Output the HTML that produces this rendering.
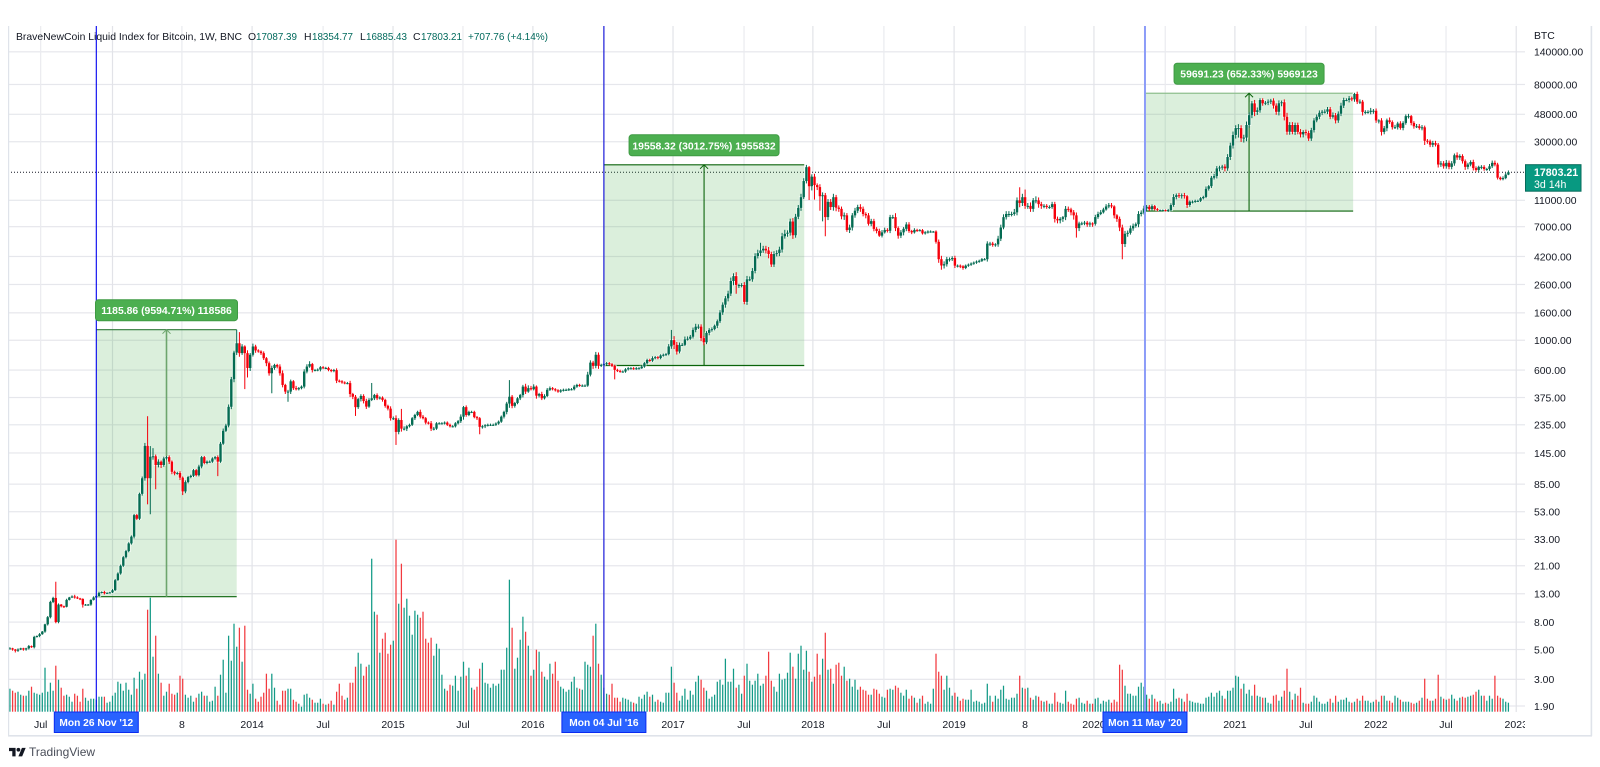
<!DOCTYPE html>
<html lang="en">
<head>
<meta charset="utf-8">
<title>BraveNewCoin Liquid Index for Bitcoin, 1W</title>
<style>
html,body{margin:0;padding:0;background:#fff;width:1600px;height:767px;overflow:hidden}
svg{display:block}
text{font-family:"Liberation Sans",Arial,sans-serif}
</style>
</head>
<body>
<svg id="chart" width="1600" height="767" viewBox="0 0 1600 767" xmlns="http://www.w3.org/2000/svg">
  <defs>
    <clipPath id="time-clip"><rect x="8" y="712" width="1517" height="24"/></clipPath>
  </defs>
  <rect x="0" y="0" width="1600" height="767" fill="#ffffff"/>
  <g id="grid"></g>
  <g id="boxes"></g>
  <g id="volumes"></g>
  <g id="halos"></g>
  <g id="candles"></g>
  <g id="markers"></g>
  <g id="price-axis"></g>
  <g id="time-axis" clip-path="url(#time-clip)"></g>
  <g id="marker-tags"></g>
  <g id="measure-labels"></g>

  <rect x="8" y="26" width="1.2" height="710" fill="#dfe3ea"/>
  <rect x="8" y="735" width="1584" height="1.6" fill="#dfe3ea"/>
  <rect x="1590.6" y="26" width="1.6" height="710" fill="#dfe3ea"/>

  <g font-size="10.4">
    <text x="16" y="40" fill="#131722" textLength="226" lengthAdjust="spacingAndGlyphs">BraveNewCoin Liquid Index for Bitcoin, 1W, BNC</text>
    <text x="248" y="40" fill="#131722">O</text>
    <text x="256" y="40" fill="#00695c" textLength="41" lengthAdjust="spacingAndGlyphs">17087.39</text>
    <text x="304" y="40" fill="#131722">H</text>
    <text x="312" y="40" fill="#00695c" textLength="41" lengthAdjust="spacingAndGlyphs">18354.77</text>
    <text x="360" y="40" fill="#131722">L</text>
    <text x="366" y="40" fill="#00695c" textLength="41" lengthAdjust="spacingAndGlyphs">16885.43</text>
    <text x="413" y="40" fill="#131722">C</text>
    <text x="421" y="40" fill="#00695c" textLength="41" lengthAdjust="spacingAndGlyphs">17803.21</text>
    <text x="468" y="40" fill="#00695c" textLength="80" lengthAdjust="spacingAndGlyphs">+707.76 (+4.14%)</text>
  </g>

  <g>
    <g transform="translate(9,746) scale(0.47)" fill="#131722">
      <path d="M14 22H7V11H0V4h14v18zM28 22h-8l7.5-18h8L28 22z"/>
      <circle cx="20" cy="8" r="4"/>
    </g>
    <text x="29" y="756" font-size="12" fill="#4a4e59">TradingView</text>
  </g>
</svg>

<script>
/* ---------- chart data ---------- */
const closes = [
5.1,5.0,4.9,5.0,5.1,5.0,5.1,5.3,5.2,6.2,
6.3,6.5,6.8,7.7,8.7,11.3,12.1,8.0,10.8,10.5,
10.4,11.7,12.2,12.4,12.2,12.0,11.9,10.8,10.8,10.8,
11.7,12.2,12.5,13.2,13.4,13.1,13.2,13.3,13.8,16.4,
18.4,21,24.3,27,30.8,34.6,50,47,72,94,
164,94,136,137,118,125,118,132,135,125,
105,102,103,95,75,88,96,98,108,99,
115,135,122,125,125,132,135,125,170,212,
232,320,513,810,950,802,899,802,622,780,
899,840,825,802,735,675,568,622,655,637,
568,465,415,415,495,440,432,440,452,585,
637,665,600,600,605,630,622,622,600,590,
600,500,495,485,480,480,398,380,318,365,
385,353,321,360,370,391,370,375,360,325,
310,263,263,208,255,220,220,229,235,263,
278,293,270,263,244,241,220,220,241,241,
241,244,235,229,229,241,250,270,318,278,
293,293,268,263,227,229,233,235,235,235,
240,248,270,293,338,380,325,341,370,391,
452,415,440,432,452,387,398,370,385,428,
440,432,424,415,424,428,428,432,432,452,
465,460,460,460,555,682,645,780,645,656,
667,675,663,645,602,592,585,585,608,619,
619,615,619,619,637,675,714,705,737,748,
737,771,780,788,900,1003,925,824,925,925,
1015,1027,1063,1195,1263,1263,1037,965,1135,1195,
1210,1283,1385,1610,1840,2050,2225,2760,3000,2580,
2580,2580,1930,2840,2840,3280,4230,4450,4660,4800,
4660,4380,3660,4380,4450,4730,5940,6200,6320,7650,
6040,8300,9660,11600,15300,19400,14000,16500,14270,13800,
11800,12000,8250,10700,9800,11600,9700,9500,8360,8500,
6610,6900,8500,9200,9800,9500,8700,8500,7350,7700,
6740,6500,6000,6350,6620,6530,8240,8240,6830,6000,
6350,6750,7270,6500,6350,6620,6590,6590,6240,6350,
6440,6440,6440,5400,4010,3600,3680,4010,4010,4090,
3590,3590,3550,3450,3590,3650,3720,3780,3850,3900,
4010,4010,5240,5240,5120,5170,5700,6900,8240,8700,
8700,8700,8950,11000,10500,11600,10000,10000,9500,11000,
11000,10300,10000,10000,9800,9800,10300,8000,7800,8000,
8240,9500,9400,8950,8500,6830,7400,7400,7500,7270,
7400,7350,8250,8700,8950,9400,9900,10100,9900,8500,
8000,6900,5200,6200,6300,6800,7100,7300,8700,8900,
9550,9850,9450,9950,9450,9300,9300,9300,9190,9300,
10150,11650,12000,11800,12000,11800,10150,10750,10750,10900,
10900,11400,11650,13400,14000,16200,16650,19000,19300,19600,
19000,23100,28100,33700,37900,37900,31800,32200,40000,47300,
57900,50000,51400,61300,57900,58500,59600,60700,55700,50100,
58000,59000,46000,35600,40000,35500,40000,35500,34000,35500,
34800,31700,36600,43200,46000,49300,50200,50200,52300,46000,
47200,43200,48500,55700,61300,61300,63100,62000,68000,59600,
59600,50000,50000,50000,51000,51000,43200,43200,35500,37800,
43300,42000,38500,38500,41000,38000,41400,46500,46500,41400,
39100,39100,38000,38400,30500,30200,28500,29300,28500,20300,
20700,19700,20900,19500,20700,23800,22900,23500,21500,19500,
20300,21200,19100,18500,19500,19500,18800,18800,19700,20900,
20300,16200,15800,16100,17087,17803.21
];
const upperWickPct = [
2,1,1,2,1,1,1,2,1,2,
1,2,1,1,2,2,2,32,2,1,
1,2,1,2,3,2,1,1,1,1,
1,2,2,2,1,2,1,1,2,2,
2,2,2,2,2,2,2,2,2,3,
5,66,20,15,3,4,2,3,2,3,
2,2,2,3,2,3,2,2,2,2,
3,2,2,2,2,2,2,3,3,4,
3,4,4,3,26,21,4,2,5,3,
5,3,2,2,3,2,3,4,2,2,
4,5,2,3,3,2,4,2,2,4,
4,5,2,2,2,2,2,2,2,2,
2,3,2,2,2,2,4,2,3,2,
3,3,4,3,30,2,3,2,2,2,
2,4,3,5,3,21,4,2,2,2,
2,2,4,3,2,2,4,3,2,2,
2,2,2,2,2,2,2,4,2,3,
2,2,2,2,2,2,2,2,2,2,
2,2,2,2,3,33,3,2,2,2,
3,5,5,4,4,2,2,4,3,3,
3,2,2,2,2,2,2,2,2,3,
2,2,2,2,5,4,3,5,4,2,
2,2,2,2,2,2,2,2,2,2,
2,2,2,2,2,2,2,2,3,2,
2,2,2,2,4,19,7,5,4,3,
5,4,3,4,5,4,4,4,3,3,
3,2,3,4,4,4,5,6,5,7,
2,3,5,6,5,5,5,6,14,5,
5,6,4,5,5,5,6,7,4,5,
6,5,5,6,5,4,2,4,5,3,
5,5,4,5,5,6,4,4,4,5,
4,5,4,5,4,5,4,3,4,4,
4,3,4,4,4,3,4,4,7,3,
4,3,4,4,2,3,2,2,2,2,
2,2,1,2,4,6,5,4,3,3,
4,2,2,2,2,2,2,2,2,2,
2,2,4,3,3,2,5,5,5,5,
5,4,6,5,25,6,14,5,6,4,
7,5,4,3,3,3,4,4,4,3,
2,5,4,3,4,5,3,3,3,3,
3,2,4,4,4,3,4,4,4,2,
2,4,5,5,4,5,4,3,5,4,
5,3,3,3,2,2,1,1,1,2,
3,5,3,4,3,4,2,2,2,2,
2,2,2,4,2,3,4,4,3,3,
4,5,5,6,5,7,5,5,6,5,
4,6,5,3,3,3,4,3,4,4,
5,3,5,7,5,5,4,4,5,3,
4,4,4,4,4,4,3,4,4,4,
5,4,4,5,4,3,4,3,2,4,
4,3,3,3,5,3,4,2,4,4,
3,5,3,4,3,4,3,3,4,2,
3,4,4,4,3,3,3,4,4,3,
4,4,5,4,4,3,5,3,3,3,
3,3,4,3,2,3,3,2,4,4,
4,3,2,3,3,3
];
const lowerWickPct = [
2,2,3,2,1,2,2,2,1,2,
1,2,1,2,2,2,2,2,2,2,
2,1,1,1,2,1,2,5,2,2,
2,1,1,1,1,2,1,1,1,1,
1,2,2,2,2,2,3,2,2,3,
4,36,46,5,34,4,5,3,2,4,
4,3,2,4,6,3,2,2,2,2,
2,3,2,2,2,2,2,22,2,2,
2,3,4,5,4,6,3,46,15,5,
3,4,2,3,3,5,4,29,3,3,
4,4,4,16,4,3,2,2,2,3,
3,2,4,2,2,3,2,2,2,2,
2,4,2,2,2,2,5,4,14,3,
4,4,4,2,2,3,3,2,3,3,
3,4,3,20,4,5,3,4,2,2,
3,2,3,2,3,2,4,3,2,2,
2,2,2,2,2,2,2,3,5,3,
2,2,2,3,12,3,3,2,2,2,
2,2,2,3,4,7,4,3,2,3,
4,4,2,2,2,5,3,3,2,2,
2,2,2,2,2,2,2,2,2,2,
2,2,2,2,2,3,5,4,5,2,
2,2,2,2,15,2,2,2,2,2,
2,2,2,2,1,2,2,2,2,2,
2,2,2,2,2,4,7,5,3,2,
2,2,2,3,4,4,5,5,3,4,
3,2,4,3,4,5,5,4,7,14,
5,4,4,5,3,4,4,4,5,4,
5,7,4,4,4,5,5,4,5,5,
6,4,4,5,3,4,21,7,22,5,
22,35,28,5,5,6,6,5,5,6,
3,5,5,4,4,5,4,5,3,4,
4,4,2,3,2,3,4,3,5,5,
4,5,4,3,3,2,3,2,2,2,
2,2,2,3,6,7,5,4,4,3,
4,3,3,3,2,2,2,2,2,2,
2,2,4,4,3,3,4,4,3,4,
5,4,3,5,7,5,5,5,5,5,
5,6,5,4,3,3,3,6,5,5,
5,5,4,5,7,15,5,3,3,4,
4,5,3,3,2,2,2,3,3,5,
5,6,23,5,5,3,4,3,5,4,
3,4,3,2,2,2,1,1,1,2,
2,3,4,3,4,4,5,3,3,2,
2,2,2,2,3,3,3,4,5,4,
5,4,5,5,6,15,6,7,6,5,
5,7,5,4,4,3,4,4,5,5,
6,5,6,5,5,4,5,4,5,5,
4,4,4,4,3,4,4,3,4,4,
3,5,4,4,4,2,4,3,4,4,
4,6,4,3,4,5,4,5,6,4,
5,3,4,3,4,3,4,3,4,4,
4,3,3,4,7,4,4,4,3,5,
4,4,4,4,4,4,4,4,4,5,
4,3,4,3,4,4,3,3,3,3,
3,3,2,2,2,1
];
const volumes = [
23,21,19,20,17,16,16,21,25,19,
18,17,19,44,20,29,21,46,32,24,
16,17,15,10,18,16,10,23,14,11,
13,13,12,15,15,15,9,10,16,19,
30,28,21,29,22,17,34,23,40,32,
38,102,114,55,76,38,29,16,20,28,
18,17,19,36,33,17,14,16,10,14,
18,20,16,16,10,11,25,16,37,52,
19,76,51,88,65,84,50,86,22,18,
28,13,10,15,19,38,23,38,24,11,
7,21,21,23,23,12,10,8,5,17,
18,14,12,9,9,13,8,7,8,11,
7,20,28,16,12,14,29,29,45,59,
48,36,45,47,153,100,97,59,73,79,
58,
67,71,172,108,148,104,113,96,77,101,
97,94,100,73,69,74,56,68,63,37,
23,21,27,26,36,21,35,50,36,44,
24,22,25,43,49,29,28,24,28,26,
28,42,42,64,132,84,43,54,72,95,
80,66,36,42,62,60,40,35,32,48,
38,50,31,25,23,20,22,30,35,24,
23,22,50,47,45,76,88,48,37,24,
18,17,28,14,14,10,14,13,12,10,
9,8,15,13,17,20,15,17,10,12,
10,9,19,19,45,29,19,11,16,23,
12,21,17,30,36,32,24,21,13,15,
17,30,32,27,53,30,30,43,24,27,
18,36,48,31,27,31,38,26,28,36,
60,31,25,20,38,32,33,39,59,45,
33,58,66,42,61,40,30,35,58,37,
53,79,42,43,28,47,49,36,45,31,
33,25,32,22,25,22,21,17,17,23,
22,18,15,14,22,23,22,26,24,19,
16,22,13,16,14,9,13,16,8,10,
8,23,58,40,36,22,36,24,16,19,
15,11,13,12,12,22,10,11,10,8,
9,28,16,10,16,13,22,26,13,12,
14,14,18,36,24,23,24,14,12,16,
15,11,10,11,8,8,19,10,9,8,
21,10,8,7,13,14,9,8,11,8,
8,13,14,8,11,10,12,9,12,10,
47,42,26,18,
18,16,16,25,29,25,17,13,17,13,
10,11,8,9,8,10,23,13,14,13,
10,18,11,10,9,9,8,8,14,15,
19,15,19,21,16,13,21,21,24,36,
35,23,28,18,22,16,27,16,15,14,
14,9,8,16,17,11,15,21,43,20,
12,18,16,24,9,8,8,10,16,14,
10,8,8,10,13,9,16,10,12,12,
14,10,9,10,13,11,16,11,11,9,
10,12,10,16,16,11,11,9,16,14,
12,10,10,10,9,8,9,11,14,33,
13,11,11,13,37,15,13,12,13,17,
13,11,14,15,14,15,16,17,20,22,
16,16,11,16,13,36,16,14,13,10,
9
];
const priceTicks = [140000,80000,48000,30000,11000,7000,4200,2600,1600,1000,600,375,235,145,85,53,33,21,13,8,5,3,1.9];
const timeTickLabels = ['Jul','2013','8','2014','Jul','2015','Jul','2016','Jul','2017','Jul','2018','Jul','2019','8','2020','Jul','2021','Jul','2022','Jul','2023'];
const timeTickWeeks = [11.4,38,63.7,89.7,116,141.9,167.8,193.7,220,245.6,271.9,297.4,323.7,349.7,376,401.5,427.9,453.7,480,505.9,531.9,557.9];
const markerWeeks = [32,220,420.4];
const markerLabels = ["Mon 26 Nov '12","Mon 04 Jul '16","Mon 11 May '20"];
const measureStartWeeks = [32,220,420.4];
const measureEndWeeks = [84,294.2,497.5];
const measureLowPrices = [12.36,649,9150];
const measureHighPrices = [1198.2,20207,68841];
const measureLabels = ['1185.86 (9594.71%) 118586','19558.32 (3012.75%) 1955832','59691.23 (652.33%) 5969123'];
const lastPrice = 17803.21;
const lastCountdown = '3d 14h';

/* ---------- axis functions ---------- */
const NS = 'http://www.w3.org/2000/svg';
const plotLeft = 8, plotRight = 1525, plotTop = 26, plotBottom = 712;
function x(week){ return 9.9 + week * 2.7; }
function tickX(week){ return 9.9 + week * 2.7; }
function y(price){ return 706 - 58.37 * Math.log(price / 1.9); }
function volumeHeight(v){ return v * 1.0; }
function make(tag, attrs, parent){
  const el = document.createElementNS(NS, tag);
  for (const k in attrs) el.setAttribute(k, attrs[k]);
  parent.appendChild(el);
  return el;
}
const gridG = document.getElementById('grid');
const boxesG = document.getElementById('boxes');
const volG = document.getElementById('volumes');
const haloG = document.getElementById('halos');
const candleG = document.getElementById('candles');
const markerG = document.getElementById('markers');
const priceG = document.getElementById('price-axis');
const timeG = document.getElementById('time-axis');
const tagG = document.getElementById('marker-tags');
const labelG = document.getElementById('measure-labels');

/* grid + tick labels */
priceTicks.forEach(function(p){
  const line = make('rect', {x:plotLeft, y:y(p)-0.6, width:plotRight-plotLeft, height:1.2, fill:'#e6e7ec'}, gridG);
  
  
  const t = make('text', {x:1534, y:y(p)+3.8, 'font-size':10.4, fill:'#131722'}, priceG);
  
  
  t.textContent = p.toFixed(2);
});
const btc = make('text', {x:1534, y:39, 'font-size':10.4, fill:'#131722'}, priceG);


btc.textContent = 'BTC';

timeTickWeeks.forEach(function(w, i){
  const isYear = /^20/.test(timeTickLabels[i]);
  const line = make('rect', {x:tickX(w)-0.6, y:plotTop, width:1.2, height:plotBottom-plotTop, fill:isYear?'#e2e3e8':'#eaebef'}, gridG);
  
  
  const t = make('text', {x:tickX(w), y:728, 'font-size':10.5, fill:'#131722', 'text-anchor':'middle'}, timeG);
  
  
  t.textContent = timeTickLabels[i];
});

/* last price dotted line */
const lastLine = make('line', {x1:plotLeft, x2:plotRight, y1:y(lastPrice), y2:y(lastPrice), stroke:'#131722', 'stroke-width':1, 'stroke-dasharray':'1 2'}, gridG);



/* measurement boxes */
const measureTop = ['#2f7a3a','#0b640b','#8fbf8f'];
const measureArrow = ['#6da56d','#0b640b','#0b640b'];
measureStartWeeks.forEach(function(s, i){
  const x0 = x(s), x1 = x(measureEndWeeks[i]);
  const yTop = y(measureHighPrices[i]), yBot = y(measureLowPrices[i]);
  const mid = (x0 + x1) / 2;
  const box = make('rect', {x:x0, y:yTop, width:x1-x0, height:yBot-yTop, fill:'#4caf50', 'fill-opacity':0.2}, boxesG);
  
  
  const top = make('line', {x1:x0, x2:x1, y1:yTop, y2:yTop, stroke:measureTop[i], 'stroke-width':1.2}, boxesG);
  
  
  const bot = make('line', {x1:x0, x2:x1, y1:yBot, y2:yBot, stroke:'#0b640b', 'stroke-width':1.2}, boxesG);
  
  
  const arrow = make('line', {x1:mid, x2:mid, y1:yBot, y2:yTop, stroke:measureArrow[i], 'stroke-width':i===0?1.6:1.1}, boxesG);
  
  
  const head = make('polyline', {points:(mid-4)+','+(yTop+4)+' '+mid+','+yTop+' '+(mid+4)+','+(yTop+4), fill:'none', stroke:measureArrow[i], 'stroke-width':1}, boxesG);
  
  

  const w = i === 0 ? 142 : 150;
  const lx = mid - w / 2;
  const tag = make('rect', {x:lx, y:yTop-30, width:w, height:21, rx:3, fill:'#4caf50', stroke:'#3e9a43', 'stroke-width':1}, labelG);
  
  
  const txt = make('text', {x:mid, y:yTop-15.5, 'font-size':10.4, 'font-weight':'bold', fill:'#ffffff', 'text-anchor':'middle'}, labelG);
  
  
  txt.textContent = measureLabels[i];
});

/* volume bars */
volumes.forEach(function(v, i){
  const open = i ? closes[i-1] : closes[i];
  const up = closes[i] >= open;
  const h = volumeHeight(v);
  const bar = make('rect', {x:x(i)-0.62, y:711.7-h, width:1.25, height:h, fill:up?'#129a86':'#f23a3f'}, volG);
  
  
});

/* candles */
closes.forEach(function(c, i){
  const o = i ? closes[i-1] : c;
  const up = c >= o;
  const bodyTopPrice = Math.max(o, c), bodyBotPrice = Math.min(o, c);
  const hi = bodyTopPrice * (1 + upperWickPct[i] / 100);
  const lo = bodyBotPrice * (1 - lowerWickPct[i] / 100);
  const col = up ? '#046b52' : '#f5000b';
  const cx = x(i);
  const halo = make('rect', {x:cx-2.1, y:y(bodyTopPrice)-1, width:4.2, height:y(bodyBotPrice)-y(bodyTopPrice)+2, fill:'#ffffff', 'fill-opacity':0.65}, haloG);
  
  
  const wick = make('rect', {x:cx-0.5, y:y(hi), width:1, height:y(lo)-y(hi), fill:col}, candleG);
  
  
  const body = make('rect', {x:cx-1.2, y:y(bodyTopPrice), width:2.4, height:Math.max(1, y(bodyBotPrice)-y(bodyTopPrice)), fill:col}, candleG);
  
  
});

/* vertical event markers */
const markerColor = ['#0000f0','#0a0ad8','#8c9cf8'];
const markerWidth = [1.1,1.1,2];
markerWeeks.forEach(function(w, i){
  const line = make('rect', {x:x(w)-markerWidth[i]/2, y:plotTop, width:markerWidth[i], height:plotBottom-plotTop, fill:markerColor[i]}, markerG);
  
  
  const tag = make('rect', {x:x(w)-42, y:712, width:84, height:20.5, fill:'#2962ff', stroke:'#0a2cf0', 'stroke-width':1}, tagG);
  
  
  const t = make('text', {x:x(w), y:726, 'font-size':10.2, 'font-weight':'bold', fill:'#ffffff', 'text-anchor':'middle'}, tagG);
  
  
  t.textContent = markerLabels[i];
});

/* last price label */
const lp = y(lastPrice);
const lpBox = make('rect', {x:1525.5, y:lp-7.5, width:55.5, height:26.5, fill:'#089981', stroke:'#056b5a', 'stroke-width':1}, priceG);


const lpText = make('text', {x:1534, y:lp+3.6, 'font-size':10.6, 'font-weight':'bold', fill:'#ffffff'}, priceG);


lpText.textContent = lastPrice.toFixed(2);
const cdText = make('text', {x:1534, y:lp+16, 'font-size':10.6, fill:'#ffffff'}, priceG);


cdText.textContent = lastCountdown;
</script>
</body>
</html>
